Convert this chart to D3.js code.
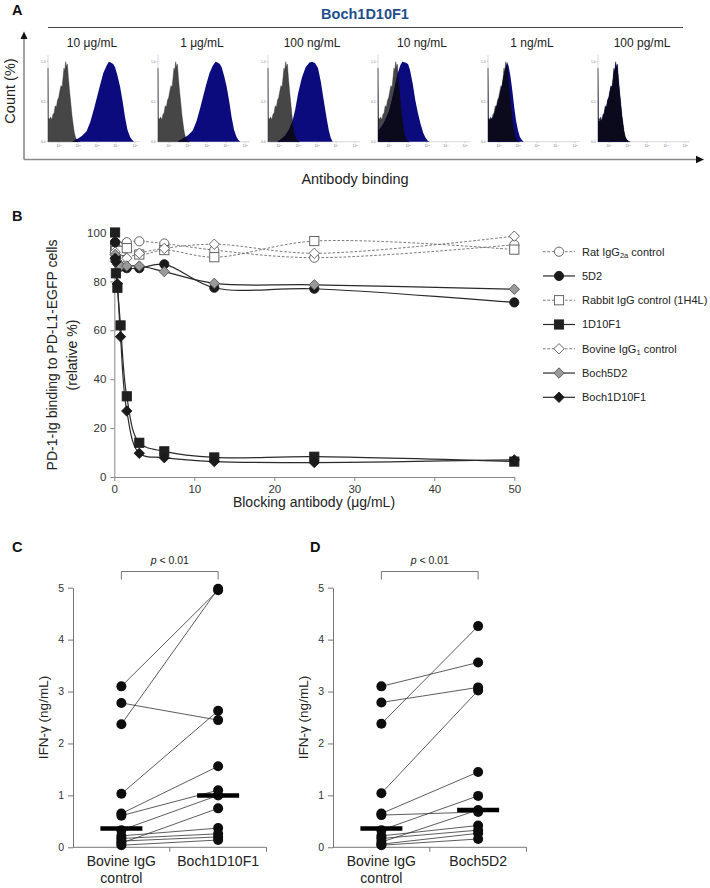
<!DOCTYPE html>
<html><head><meta charset="utf-8">
<script src="https://cdn.jsdelivr.net/npm/d3@7"></script>
<style>body{margin:0;background:#fff} svg{font-family:"Liberation Sans",Arial,Helvetica,sans-serif}</style>
</head><body><svg id="c" width="710" height="888"></svg>
<script>
// ---------------- DATA ----------------
// Panel A
const histTitle = "Boch1D10F1";
const histLabels = ["10 μg/mL","1 μg/mL","100 ng/mL","10 ng/mL","1 ng/mL","100 pg/mL"];
const histXTicks = [1,2,3,4,5];          // log10 decades
const histYTicks = [0,0.5,1];
const histYTickLabels = ["0.0","0.5","1.0"];
// control (grey) histogram: [log10 intensity, normalized count]
const ctrlHist = [[0.42,0.92],[0.44,0.30],[0.50,0.28],[0.56,0.31],[0.62,0.27],[0.68,0.34],[0.74,0.36],[0.80,0.45],[0.86,0.43],[0.92,0.52],[0.98,0.55],[1.04,0.63],[1.10,0.70],[1.16,0.68],[1.22,0.82],[1.26,0.92],[1.30,0.88],[1.35,1.00],[1.40,0.93],[1.44,0.97],[1.50,0.78],[1.56,0.62],[1.62,0.48],[1.68,0.33],[1.74,0.22],[1.80,0.12],[1.86,0.06],[1.92,0.03],[2.00,0.01],[2.10,0]];
// Boch1D10F1 (blue) histograms per concentration
const blue10ug = [[1.70,0],[1.85,0.02],[2.00,0.04],[2.20,0.07],[2.45,0.13],[2.65,0.25],[2.85,0.42],[3.00,0.56],[3.15,0.70],[3.33,0.86],[3.50,0.95],[3.62,1.00],[3.72,0.99],[3.85,0.97],[3.95,0.93],[4.08,0.82],[4.21,0.69],[4.35,0.50],[4.47,0.31],[4.60,0.15],[4.74,0.06],[4.85,0.02],[4.95,0]];
const blue1ug = [[1.45,0],[1.60,0.02],[1.80,0.05],[2.00,0.08],[2.25,0.14],[2.45,0.26],[2.65,0.43],[2.80,0.57],[2.95,0.71],[3.13,0.86],[3.30,0.95],[3.45,1.00],[3.55,0.99],[3.67,0.97],[3.77,0.93],[3.90,0.82],[4.03,0.69],[4.17,0.50],[4.29,0.31],[4.42,0.15],[4.55,0.06],[4.65,0.02],[4.75,0]];
const blue100ng = [[0.90,0],[1.10,0.03],[1.30,0.07],[1.50,0.14],[1.70,0.25],[1.85,0.40],[2.00,0.60],[2.20,0.80],[2.40,0.93],[2.60,0.99],[2.74,1.00],[2.90,0.98],[3.05,0.92],[3.20,0.75],[3.35,0.52],[3.50,0.30],[3.62,0.14],[3.72,0.05],[3.82,0]];
const blue10ng = [[0.42,0.78],[0.44,0.14],[0.55,0.17],[0.70,0.22],[0.85,0.30],[1.00,0.38],[1.15,0.52],[1.30,0.68],[1.45,0.85],[1.60,0.96],[1.70,1.00],[1.85,0.99],[2.00,0.97],[2.10,0.90],[2.25,0.72],[2.38,0.52],[2.52,0.36],[2.65,0.23],[2.80,0.11],[2.92,0.05],[3.05,0.01],[3.15,0]];
const blue1ng = [[0.42,0.88],[0.44,0.28],[0.50,0.27],[0.60,0.29],[0.70,0.31],[0.80,0.40],[0.90,0.47],[1.00,0.55],[1.10,0.65],[1.20,0.77],[1.30,0.88],[1.42,1.00],[1.50,0.95],[1.60,0.82],[1.70,0.64],[1.80,0.43],[1.90,0.26],[2.00,0.14],[2.10,0.06],[2.20,0.02],[2.30,0]];
const blue100pg = [[0.42,0.85],[0.44,0.26],[0.50,0.25],[0.56,0.28],[0.62,0.26],[0.68,0.32],[0.74,0.35],[0.80,0.44],[0.86,0.43],[0.92,0.52],[0.98,0.55],[1.04,0.63],[1.10,0.70],[1.16,0.68],[1.22,0.82],[1.26,0.92],[1.30,0.88],[1.35,1.00],[1.40,0.93],[1.44,0.97],[1.50,0.78],[1.56,0.62],[1.62,0.48],[1.68,0.33],[1.74,0.22],[1.80,0.12],[1.86,0.06],[1.92,0.03],[2.00,0.01],[2.10,0]];
const blueHists = [blue10ug, blue1ug, blue100ng, blue10ng, blue1ng, blue100pg];

// Panel B
const conc = [0.0977, 0.195, 0.39, 0.78, 1.56, 3.125, 6.25, 12.5, 25, 50];
const ratIgG2a   = [96.0, 95.5, 95.0, 94.0, 96.0, 96.4, 95.5, 92.8, 89.7, 95.0];
const mAb5D2     = [96.0, 90.0, 87.5, 86.0, 85.4, 85.4, 87.0, 77.4, 77.0, 71.4];
const rabbitIgG  = [93.5, 92.5, 91.0, 92.5, 93.6, 91.0, 92.8, 89.9, 96.5, 93.0];
const mAb1D10F1  = [100.0, 83.3, 77.4, 62.0, 33.0, 14.0, 10.5, 8.0, 8.3, 6.3];
const bovineIgG1 = [92.0, 90.5, 89.5, 89.0, 89.5, 91.5, 93.5, 95.2, 91.5, 98.5];
const boch5D2    = [91.0, 88.5, 87.0, 86.3, 86.3, 86.3, 84.0, 79.2, 78.6, 76.8];
const boch1D10F1 = [89.4, 88.0, 79.0, 57.4, 27.0, 9.7, 7.9, 6.3, 5.9, 7.0];
const seriesB = [ratIgG2a, mAb5D2, rabbitIgG, mAb1D10F1, bovineIgG1, boch5D2, boch1D10F1];
const seriesNames = ["Rat IgG_{2a} control","5D2","Rabbit IgG control (1H4L)","1D10F1","Bovine IgG_{1} control","Boch5D2","Boch1D10F1"];
const bYTicks = [0,20,40,60,80,100];
const bXTicks = [0,10,20,30,40,50];

// Panels C and D
const groupsC = ["Bovine IgG control","Boch1D10F1"];
const ctrlC   = [3.10, 2.37, 2.78, 1.03, 0.65, 0.61, 0.33, 0.08, 0.22, 0.17, 0.12, 0.04];
const trtC    = [4.95, 4.98, 2.45, 2.63, 1.56, 1.10, 1.00, 0.75, 0.37, 0.26, 0.20, 0.14];
const medianC = [0.36, 1.00];
const groupsD = ["Bovine IgG control","Boch5D2"];
const ctrlD   = [2.38, 3.10, 2.79, 1.04, 0.65, 0.62, 0.33, 0.10, 0.22, 0.17, 0.06, 0.04];
const trtD    = [4.26, 3.56, 3.08, 3.02, 1.45, 0.68, 0.99, 0.72, 0.42, 0.33, 0.27, 0.16];
const medianD = [0.36, 0.72];
const ifnTicks = [0,1,2,3,4,5];
const pText = "< 0.01";

// ---------------- DRAW ----------------
const svg = d3.select("#c");
svg.append("rect").attr("width",710).attr("height",888).attr("fill","#fff");

function letter(t,x,y){ svg.append("text").attr("x",x).attr("y",y).attr("font-weight","bold").attr("font-size",14.5).attr("fill","#111").text(t); }
letter("A",12,15); letter("B",12,221); letter("C",12,552); letter("D",310,552);

// ---- Panel A ----
svg.append("text").attr("x",365).attr("y",18.5).attr("text-anchor","middle")
  .attr("font-weight","bold").attr("font-size",14.5).attr("fill","#1f4e8c").text(histTitle);
svg.append("line").attr("x1",48).attr("x2",683).attr("y1",27.5).attr("y2",27.5).attr("stroke","#444").attr("stroke-width",1);

// arrows
svg.append("line").attr("x1",24).attr("x2",24).attr("y1",159.5).attr("y2",37).attr("stroke","#8a8a8a").attr("stroke-width",1.6);
svg.append("path").attr("d","M24,31.5 L20.5,39 L27.5,39 Z").attr("fill","#111");
svg.append("line").attr("x1",24).attr("x2",697).attr("y1",159.5).attr("y2",159.5).attr("stroke","#8a8a8a").attr("stroke-width",1.6);
svg.append("path").attr("d","M704,159.5 L696,155.8 L696,163.2 Z").attr("fill","#111");
svg.append("text").attr("transform","translate(10,91) rotate(-90)").attr("dy","0.35em")
  .attr("text-anchor","middle").attr("font-size",14.5).attr("fill","#222").text("Count (%)");
svg.append("text").attr("x",355).attr("y",184).attr("text-anchor","middle").attr("font-size",14.5).attr("fill","#222").text("Antibody binding");

const band = d3.scaleBand().domain(histLabels).range([48,708]);
const hx = d3.scaleLinear().domain([0.42,5.26]).range([0,92]);
const hy = d3.scaleLinear().domain([0,1]).range([141.7,61.7]);
const harea = d3.area().x(d=>hx(d[0])).y0(hy(0)).y1(d=>hy(d[1]));
histLabels.forEach((lab,i)=>{
  const g = svg.append("g").attr("transform",`translate(${band(lab)},0)`);
  g.append("line").attr("x1",0).attr("x2",0).attr("y1",55).attr("y2",hy(0)).attr("stroke","#c8c8c8").attr("stroke-width",0.7);
  g.append("line").attr("x1",0).attr("x2",92).attr("y1",hy(0)).attr("y2",hy(0)).attr("stroke","#c8c8c8").attr("stroke-width",0.7);
  histYTicks.forEach((t,j)=>{
    g.append("line").attr("x1",-1.5).attr("x2",0).attr("y1",hy(t)).attr("y2",hy(t)).attr("stroke","#aaa").attr("stroke-width",0.5);
    g.append("text").attr("x",-2.5).attr("y",hy(t)+1).attr("text-anchor","end").attr("font-size",3.2).attr("fill","#777").text(histYTickLabels[j]);
  });
  histXTicks.forEach(t=>{
    g.append("line").attr("x1",hx(t)).attr("x2",hx(t)).attr("y1",hy(0)).attr("y2",hy(0)+1.5).attr("stroke","#aaa").attr("stroke-width",0.5);
    const tx = g.append("text").attr("x",hx(t)).attr("y",hy(0)+5).attr("text-anchor","middle").attr("font-size",3.2).attr("fill","#777");
    tx.append("tspan").text("10");
    tx.append("tspan").attr("dy",-1).attr("font-size",2.4).text(String(t));
  });
  const id = "gclip"+i;
  g.append("clipPath").attr("id",id).append("path").attr("d",harea(ctrlHist));
  g.append("path").attr("d",harea(ctrlHist)).attr("fill","#464646").attr("stroke","#2a2a2a").attr("stroke-width",0.4);
  g.append("path").attr("d",harea(blueHists[i])).attr("fill","#0b0b7e");
  g.append("path").attr("d",harea(blueHists[i])).attr("fill","#0a0a1c").attr("clip-path",`url(#${id})`);
  g.append("text").attr("x",44).attr("y",46.8).attr("text-anchor","middle").attr("font-size",12).attr("fill","#222").text(lab);
});

// ---- Panel B ----
const xB = d3.scaleLinear().domain([0,50]).range([114.3,514.3]);
const yB = d3.scaleLinear().domain([0,100]).range([477,232.5]);
const axL = svg.append("g").attr("transform",`translate(${xB(0)},0)`)
  .call(d3.axisLeft(yB).tickValues(bYTicks).tickSize(4).tickSizeOuter(0).tickPadding(4));
const axB = svg.append("g").attr("transform",`translate(0,${yB(0)})`)
  .call(d3.axisBottom(xB).tickValues(bXTicks).tickSize(4).tickSizeOuter(0).tickPadding(4));
[axL,axB].forEach(a=>{
  a.selectAll("path,line").attr("stroke","#888");
  a.selectAll("text").attr("font-size",11.5).attr("fill","#333").attr("font-family",null);
});
svg.append("text").attr("transform",`translate(52,355) rotate(-90)`).attr("dy","0.35em")
  .attr("text-anchor","middle").attr("font-size",14).attr("fill","#222").text("PD-1-Ig binding to PD-L1-EGFP cells");
svg.append("text").attr("transform",`translate(72,355) rotate(-90)`).attr("dy","0.35em")
  .attr("text-anchor","middle").attr("font-size",14).attr("fill","#222").text("(relative %)");
svg.append("text").attr("x",314).attr("y",507).attr("text-anchor","middle").attr("font-size",14).attr("fill","#222").text("Blocking antibody (μg/mL)");

const styles = [
  {shape:"circle", fill:"#fff", stroke:"#555", dashed:true},
  {shape:"circle", fill:"#1a1a1a", stroke:"#1a1a1a", dashed:false},
  {shape:"square", fill:"#fff", stroke:"#555", dashed:true},
  {shape:"square", fill:"#1f1f1f", stroke:"#1f1f1f", dashed:false},
  {shape:"diamond", fill:"#fff", stroke:"#555", dashed:true},
  {shape:"diamond", fill:"#9a9a9a", stroke:"#555", dashed:false},
  {shape:"diamond", fill:"#1a1a1a", stroke:"#1a1a1a", dashed:false}
];
function marker(g, st, x, y){
  if(st.shape==="circle") g.append("circle").attr("cx",x).attr("cy",y).attr("r",4.6).attr("fill",st.fill).attr("stroke",st.stroke).attr("stroke-width",0.9);
  else if(st.shape==="square") g.append("rect").attr("x",x-4.6).attr("y",y-4.6).attr("width",9.2).attr("height",9.2).attr("fill",st.fill).attr("stroke",st.stroke).attr("stroke-width",0.9);
  else g.append("path").attr("d",`M${x},${y-5.2}L${x+5.2},${y}L${x},${y+5.2}L${x-5.2},${y}Z`).attr("fill",st.fill).attr("stroke",st.stroke).attr("stroke-width",0.9);
}
const lineB = d3.line().x(d=>xB(d[0])).y(d=>yB(d[1])).curve(d3.curveCatmullRom.alpha(0.5));
function styleLine(sel, st){
  if(st.dashed) sel.attr("stroke","#6a6a6a").attr("stroke-width",0.9).attr("stroke-dasharray","2.6,1.8");
  else sel.attr("stroke","#2a2a2a").attr("stroke-width",1.2);
  return sel.attr("fill","none");
}
const drawOrder = [0,2,4,1,5,3,6];
const gB = svg.append("g");
drawOrder.forEach(i=>{
  const pts = conc.map((c,k)=>[c, seriesB[i][k]]);
  styleLine(gB.append("path").attr("d",lineB(pts)), styles[i]);
});
drawOrder.forEach(i=>{
  conc.forEach((c,k)=>marker(gB, styles[i], xB(c), yB(seriesB[i][k])));
});
// legend
const legY = d3.scaleLinear().domain([0,6]).range([251.7,397.3]);
seriesNames.forEach((name,i)=>{
  const y = legY(i);
  styleLine(svg.append("line").attr("x1",543).attr("x2",575).attr("y1",y).attr("y2",y), styles[i]);
  marker(svg, styles[i], 559, y);
  const t = svg.append("text").attr("x",582).attr("y",y).attr("dy","0.36em").attr("font-size",11).attr("fill","#222");
  const parts = name.split(/_\{|\}/);
  parts.forEach((p,j)=>{
    if(!p) return;
    if(j%2===1){ t.append("tspan").attr("font-size",7.5).attr("dy",2.5).text(p); }
    else { const ts = t.append("tspan").text(p); if(j>0) ts.attr("dy",-2.5); }
  });
});

// ---- Panels C & D ----
function paired(axisX, groups, ctrl, trt, med){
  const xs = d3.scaleBand().domain(groups).range([axisX, axisX+193.5]);
  const cx = g => xs(g)+xs.bandwidth()/2;
  const y = d3.scaleLinear().domain([0,5]).range([847.3,587.7]);
  const g = svg.append("g");
  const ay = g.append("g").attr("transform",`translate(${axisX},0)`)
    .call(d3.axisLeft(y).tickValues(ifnTicks).tickSize(5).tickSizeOuter(0).tickPadding(4).tickFormat(d3.format("d")));
  ay.selectAll("path,line").attr("stroke","#777");
  ay.selectAll("text").attr("font-size",10.5).attr("fill","#333").attr("font-family",null);
  g.append("line").attr("x1",axisX).attr("x2",axisX+193.5).attr("y1",y(0)).attr("y2",y(0)).attr("stroke","#777");
  [xs(groups[1]), axisX+193.5].forEach(tx=>g.append("line").attr("x1",tx).attr("x2",tx).attr("y1",y(0)).attr("y2",y(0)+4.5).attr("stroke","#777"));
  // category labels
  const l0 = groups[0].split(" ");
  const t0 = g.append("text").attr("text-anchor","middle").attr("font-size",14).attr("fill","#222");
  t0.append("tspan").attr("x",cx(groups[0])).attr("y",866).text(l0.slice(0,2).join(" "));
  t0.append("tspan").attr("x",cx(groups[0])).attr("y",883).text(l0.slice(2).join(" "));
  g.append("text").attr("x",cx(groups[1])).attr("y",866).attr("text-anchor","middle").attr("font-size",14).attr("fill","#222").text(groups[1]);
  // y label
  g.append("text").attr("transform",`translate(${axisX-29.5},${(y(0)+y(5))/2}) rotate(-90)`).attr("dy","0.35em")
    .attr("text-anchor","middle").attr("font-size",13.5).attr("fill","#222").text("IFN-γ (ng/mL)");
  // bracket
  const bx0 = cx(groups[0]), bx1 = cx(groups[1]);
  g.append("path").attr("d",`M${bx0},579.5V571.5H${bx1}V579.5`).attr("fill","none").attr("stroke","#666").attr("stroke-width",0.9);
  const pt = g.append("text").attr("x",(bx0+bx1)/2).attr("y",564).attr("text-anchor","middle").attr("font-size",10.5).attr("fill","#222");
  pt.append("tspan").attr("font-style","italic").text("p");
  pt.append("tspan").text(" "+pText);
  // pair lines
  ctrl.forEach((v,i)=>{
    g.append("line").attr("x1",cx(groups[0])).attr("x2",cx(groups[1])).attr("y1",y(v)).attr("y2",y(trt[i])).attr("stroke","#333").attr("stroke-width",0.8);
  });
  ctrl.forEach(v=>g.append("circle").attr("cx",cx(groups[0])).attr("cy",y(v)).attr("r",5).attr("fill","#0d0d0d"));
  trt.forEach(v=>g.append("circle").attr("cx",cx(groups[1])).attr("cy",y(v)).attr("r",5).attr("fill","#0d0d0d"));
  med.forEach((m,i)=>{
    const c = cx(groups[i]);
    g.append("line").attr("x1",c-21).attr("x2",c+21).attr("y1",y(m)).attr("y2",y(m)).attr("stroke","#000").attr("stroke-width",4.5);
  });
}
paired(73, groupsC, ctrlC, trtC, medianC);
paired(333, groupsD, ctrlD, trtD, medianD);
</script>
</body></html>
